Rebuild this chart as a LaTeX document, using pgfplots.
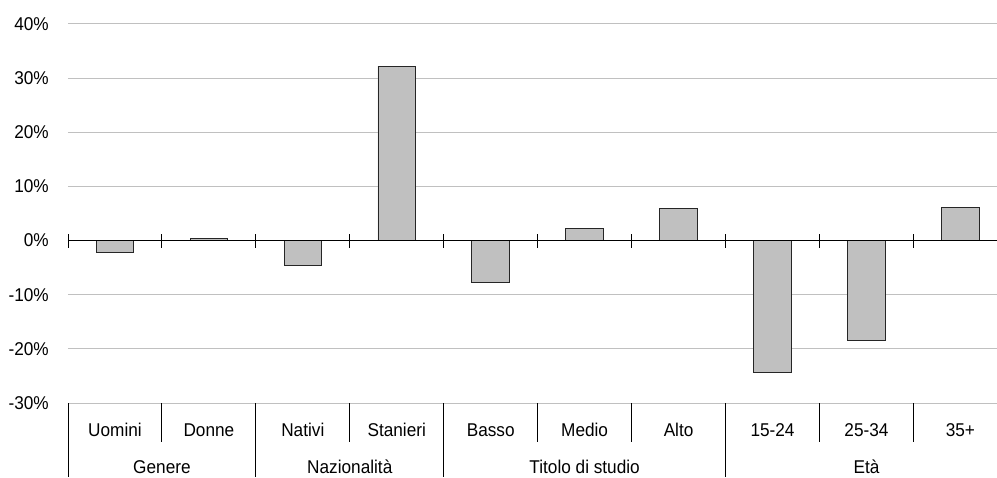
\documentclass[border=0pt]{standalone}
\usepackage{pgfplots}
\pgfplotsset{compat=1.18}
\usepackage{fontspec}
\setmainfont{Liberation Sans}[FakeStretch=0.93]

\definecolor{barfill}{RGB}{192,192,192}
\definecolor{gridgray}{RGB}{192,192,192}

\begin{document}
\fontsize{18.5}{21}\selectfont
\begin{tikzpicture}
\begin{axis}[
    scale only axis,
    width=929pt, height=379pt,
    xmin=-0.5, xmax=9.39,
    ymin=-30, ymax=40,
    axis line style={draw=none},
    clip=false,
    ybar, bar width=0.4,
    xtick={0,...,9},
    xticklabels={Uomini,Donne,Nativi,Stanieri,Basso,Medio,Alto,15-24,25-34,35+},
    xticklabel style={anchor=base, yshift=-33.5pt},
    major tick length=0pt,
    ytick={-30,-20,...,40},
    yticklabels={-30\%,-20\%,-10\%,0\%,10\%,20\%,30\%,40\%},
    yticklabel style={anchor=east, inner sep=0pt, xshift=-19pt},
    ymajorgrids,
    grid style={gridgray, line width=1pt},
    tick label style={font=\fontsize{18.5}{21}\selectfont},
]
\addplot[fill=barfill, draw=black!85, line width=0.9pt] coordinates {
    (0,-2.2) (1,0.3) (2,-4.6) (3,32.2) (4,-7.7)
    (5,2.2) (6,6.0) (7,-24.4) (8,-18.4) (9,6.2)
};

% zero line with tick marks at the category boundaries
\draw[black, line width=1.6pt] (axis cs:-0.5,0) -- (axis cs:9.39,0);
\draw[black, line width=0.9pt] (axis cs:-0.5,0) ++(0pt,-7pt) -- ++(0pt,14pt);
\draw[black, line width=0.9pt] (axis cs:0.5,0) ++(0pt,-7pt) -- ++(0pt,14pt);
\draw[black, line width=0.9pt] (axis cs:1.5,0) ++(0pt,-7pt) -- ++(0pt,14pt);
\draw[black, line width=0.9pt] (axis cs:2.5,0) ++(0pt,-7pt) -- ++(0pt,14pt);
\draw[black, line width=0.9pt] (axis cs:3.5,0) ++(0pt,-7pt) -- ++(0pt,14pt);
\draw[black, line width=0.9pt] (axis cs:4.5,0) ++(0pt,-7pt) -- ++(0pt,14pt);
\draw[black, line width=0.9pt] (axis cs:5.5,0) ++(0pt,-7pt) -- ++(0pt,14pt);
\draw[black, line width=0.9pt] (axis cs:6.5,0) ++(0pt,-7pt) -- ++(0pt,14pt);
\draw[black, line width=0.9pt] (axis cs:7.5,0) ++(0pt,-7pt) -- ++(0pt,14pt);
\draw[black, line width=0.9pt] (axis cs:8.5,0) ++(0pt,-7pt) -- ++(0pt,14pt);

% category separators
\draw[black, line width=0.9pt] (axis cs:0.5,-30) -- ++(0pt,-39pt);
\draw[black, line width=0.9pt] (axis cs:2.5,-30) -- ++(0pt,-39pt);
\draw[black, line width=0.9pt] (axis cs:4.5,-30) -- ++(0pt,-39pt);
\draw[black, line width=0.9pt] (axis cs:5.5,-30) -- ++(0pt,-39pt);
\draw[black, line width=0.9pt] (axis cs:7.5,-30) -- ++(0pt,-39pt);
\draw[black, line width=0.9pt] (axis cs:8.5,-30) -- ++(0pt,-39pt);
% group separators
\draw[black, line width=0.9pt] (axis cs:-0.5,-30) -- ++(0pt,-74pt);
\draw[black, line width=0.9pt] (axis cs:1.5,-30) -- ++(0pt,-74pt);
\draw[black, line width=0.9pt] (axis cs:3.5,-30) -- ++(0pt,-74pt);
\draw[black, line width=0.9pt] (axis cs:6.5,-30) -- ++(0pt,-74pt);

% group labels
\node[anchor=base] at (axis cs:0.5,-30) [yshift=-70pt] {Genere};
\node[anchor=base] at (axis cs:2.5,-30) [yshift=-70pt] {Nazionalità};
\node[anchor=base] at (axis cs:5,-30) [yshift=-70pt] {Titolo di studio};
\node[anchor=base] at (axis cs:8,-30) [yshift=-70pt] {Età};

\coordinate (bl) at (rel axis cs:0,0);
\coordinate (tr) at (rel axis cs:1,1);
\end{axis}
\pgfresetboundingbox
\path (bl) ++(-68pt,-74pt) coordinate (a);
\path (tr) ++(0pt,24pt) coordinate (b);
\path[use as bounding box] (a) rectangle (b);
\end{tikzpicture}
\end{document}
